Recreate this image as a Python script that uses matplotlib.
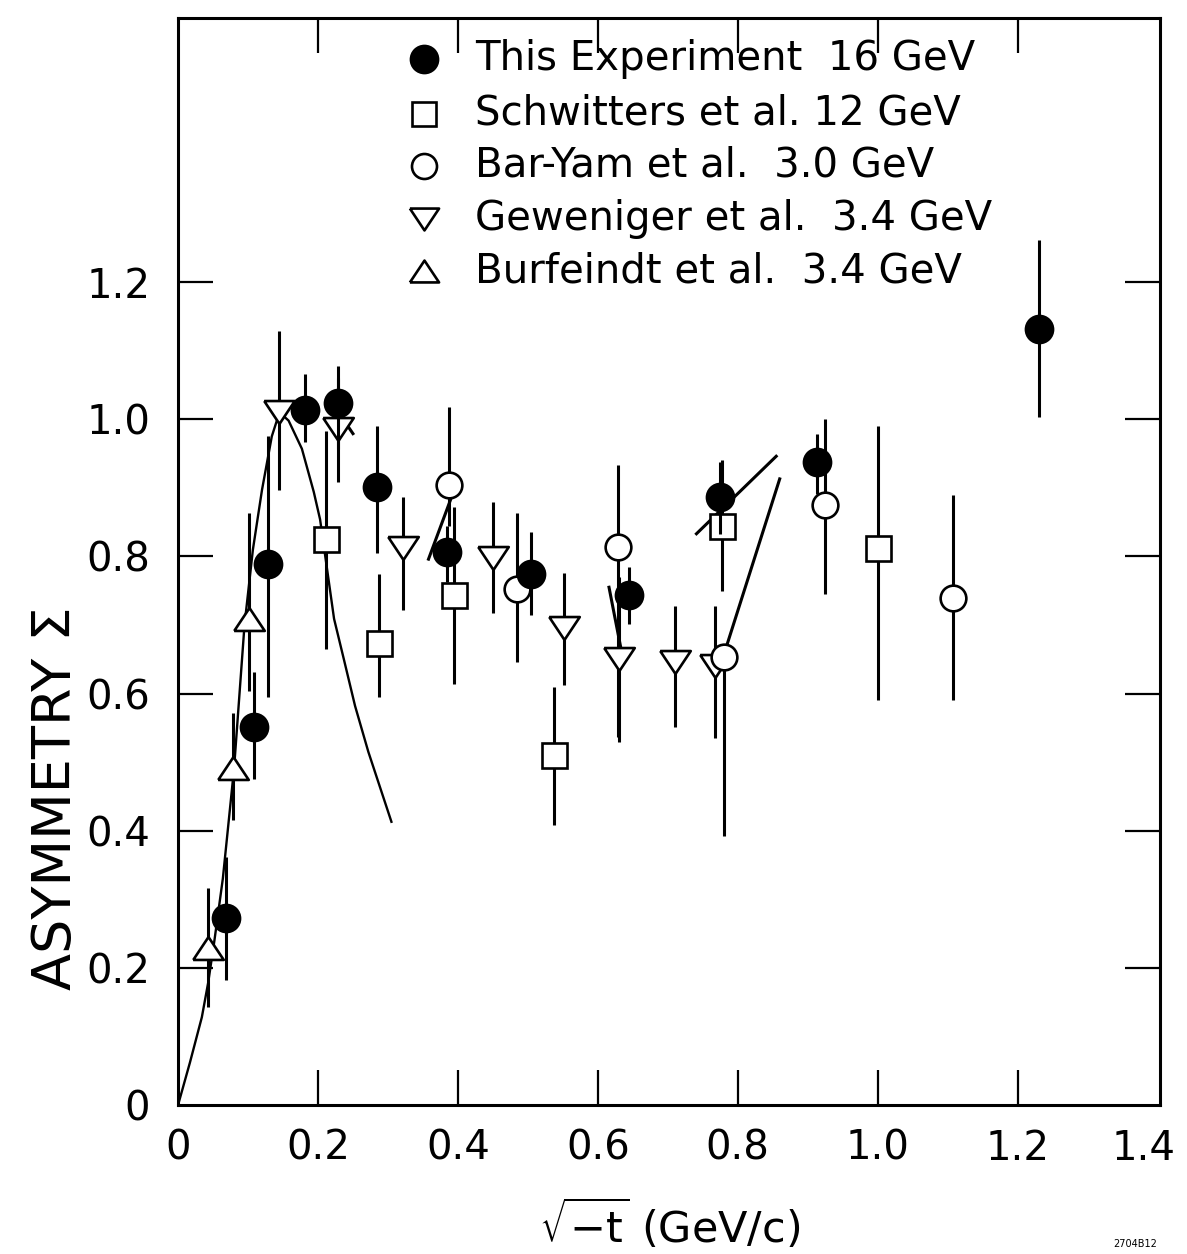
import matplotlib
matplotlib.use("Agg")
import matplotlib.pyplot as plt
import matplotlib.transforms as mtransforms
import numpy as np

plt.rcParams['font.family'] = ['DejaVu Sans']
plt.rcParams['mathtext.fontset'] = 'dejavusans'

# This experiment, 16 GeV (filled circles)
exp_x = [0.069, 0.108, 0.128, 0.182, 0.228, 0.285, 0.385, 0.505, 0.645, 0.774, 0.914, 1.230]
exp_y = [0.273, 0.551, 0.789, 1.014, 1.024, 0.901, 0.807, 0.775, 0.743, 0.886, 0.937, 1.131]
exp_hi = [0.361, 0.632, 0.975, 1.066, 1.078, 0.990, 0.845, 0.835, 0.785, 0.938, 0.979, 1.262]
exp_lo = [0.183, 0.475, 0.595, 0.967, 0.957, 0.805, 0.762, 0.715, 0.702, 0.832, 0.891, 1.003]

# Schwitters et al., 12 GeV (open squares)
sch_x = [0.211, 0.287, 0.395, 0.537, 0.778, 1.000]
sch_y = [0.825, 0.673, 0.743, 0.511, 0.845, 0.812]
sch_hi = [0.983, 0.775, 0.872, 0.610, 0.940, 0.990]
sch_lo = [0.665, 0.595, 0.614, 0.409, 0.750, 0.590]

# Bar-Yam et al., 3.0 GeV (open circles)
bar_x = [0.387, 0.485, 0.629, 0.780, 0.925, 1.107]
bar_y = [0.904, 0.753, 0.814, 0.653, 0.875, 0.740]
bar_hi = [1.018, 0.864, 0.934, 0.653, 1.000, 0.890]
bar_lo = [0.845, 0.646, 0.536, 0.392, 0.745, 0.590]

# Geweniger et al., 3.4 GeV (down triangles)
gew_x = [0.144, 0.229, 0.321, 0.450, 0.552, 0.631, 0.711, 0.767]
gew_y = [1.010, 0.986, 0.812, 0.798, 0.696, 0.650, 0.646, 0.640]
gew_hi = [1.128, 1.060, 0.886, 0.880, 0.776, 0.770, 0.727, 0.728]
gew_lo = [0.897, 0.909, 0.722, 0.717, 0.613, 0.530, 0.551, 0.535]

# Burfeindt et al., 3.4 GeV (up triangles)
bur_x = [0.043, 0.078, 0.101]
bur_y = [0.229, 0.492, 0.708]
bur_hi = [0.317, 0.572, 0.864]
bur_lo = [0.143, 0.416, 0.603]

# model curve through the low -t region
curve_x = [0, 0.017, 0.034, 0.043, 0.052, 0.064, 0.080, 0.095, 0.107, 0.120, 0.134, 0.145,
           0.158, 0.177, 0.194, 0.203, 0.223, 0.237, 0.253, 0.272, 0.305]
curve_y = [0, 0.062, 0.128, 0.178, 0.240, 0.330, 0.490, 0.700, 0.810, 0.897, 0.975, 1.010,
           0.998, 0.957, 0.894, 0.854, 0.709, 0.650, 0.582, 0.515, 0.413]

# short model segments
segments = [
    ([0.242, 0.250], [0.991, 0.979]),
    ([0.358, 0.390], [0.796, 0.884]),
    ([0.616, 0.633], [0.755, 0.666]),
    ([0.741, 0.855], [0.833, 0.946]),
    ([0.784, 0.860], [0.669, 0.913]),
]

legend_labels = ["This Experiment  16 GeV", "Schwitters et al. 12 GeV",
                 "Bar-Yam et al.  3.0 GeV", "Geweniger et al.  3.4 GeV",
                 "Burfeindt et al.  3.4 GeV"]

tri_down = [(-1, 0.75), (1, 0.75), (0, -0.75), (-1, 0.75)]
tri_up = [(-1, -0.75), (1, -0.75), (0, 0.75), (-1, -0.75)]

fig = plt.figure(figsize=(11.87, 12.54), dpi=100)
ax = fig.add_axes([0.150, 0.1188, 0.8275, 0.8668])

ax.plot(curve_x, curve_y, color='black', lw=1.7, zorder=2)
for sx, sy in segments:
    ax.plot(sx, sy, color='black', lw=2.2, zorder=2)

def series(x, y, lo, hi, marker, ms, face, z):
    y = np.array(y)
    yerr = [y - np.array(lo), np.array(hi) - y]
    ax.errorbar(x, y, yerr=yerr, fmt='none', ecolor='black', elinewidth=2.2,
                capsize=0, zorder=z - 0.5)
    ax.plot(x, y, ls='none', marker=marker, ms=ms, mfc=face, mec='black',
            mew=1.9, zorder=z)

series(gew_x, gew_y, gew_lo, gew_hi, tri_down, 22, 'white', 4)
series(bur_x, bur_y, bur_lo, bur_hi, tri_up, 22, 'white', 4)
series(sch_x, sch_y, sch_lo, sch_hi, 's', 18, 'white', 4.2)
series(bar_x, bar_y, bar_lo, bar_hi, 'o', 18.5, 'white', 4.4)
series(exp_x, exp_y, exp_lo, exp_hi, 'o', 19.5, 'black', 5)

# legend drawn in axes coordinates
leg_markers = [('o', 19.5, 'black'), ('s', 17, 'white'), ('o', 18, 'white'),
               (tri_down, 21, 'white'), (tri_up, 21, 'white')]
leg_y = [0.962, 0.912, 0.864, 0.815, 0.767]
for (m, ms, fc), ly, lab in zip(leg_markers, leg_y, legend_labels):
    ax.plot([0.2505], [ly], transform=ax.transAxes, marker=m, ms=ms, mfc=fc,
            mec='black', mew=1.9, ls='none', clip_on=False, zorder=6)
    ax.text(0.302, ly, lab, transform=ax.transAxes, fontsize=29,
            va='center', ha='left', zorder=6)

ax.set_xlim(0, 1.404)
ax.set_ylim(0, 1.585)
ax.set_xticks([0, 0.2, 0.4, 0.6, 0.8, 1.0, 1.2, 1.4])
ax.set_xticklabels(['0', '0.2', '0.4', '0.6', '0.8', '1.0', '1.2', '1.4'])
ax.set_yticks([0, 0.2, 0.4, 0.6, 0.8, 1.0, 1.2])
ax.set_yticklabels(['0', '0.2', '0.4', '0.6', '0.8', '1.0', '1.2'])
ax.tick_params(axis='both', direction='in', length=25, width=1.6,
               top=True, right=True, labelsize=29)
ax.tick_params(axis='x', pad=17)
ax.tick_params(axis='y', pad=20)
for sp in ax.spines.values():
    sp.set_linewidth(2.2)

# the end ticks sit on the frame corners
xt = ax.xaxis.get_major_ticks()
for t in (xt[0], xt[-1]):
    t.tick1line.set_visible(False)
    t.tick2line.set_visible(False)
yt = ax.yaxis.get_major_ticks()
yt[0].tick1line.set_visible(False)
yt[0].tick2line.set_visible(False)

last = ax.get_xticklabels()[-1]
last.set_transform(last.get_transform() +
                   mtransforms.ScaledTranslation(-0.14, 0, fig.dpi_scale_trans))

ax.set_xlabel(r'$\sqrt{-\mathrm{t}}$ (GeV/c)', fontsize=31)
ax.xaxis.set_label_coords(0.50, -0.085)
ax.set_ylabel('ASYMMETRY Σ', fontsize=39)
ax.yaxis.set_label_coords(-0.098, 0.282)

fig.text(0.975, 0.004, '2704B12', fontsize=7, ha='right', va='bottom')

fig.savefig('out.png', dpi=100)
